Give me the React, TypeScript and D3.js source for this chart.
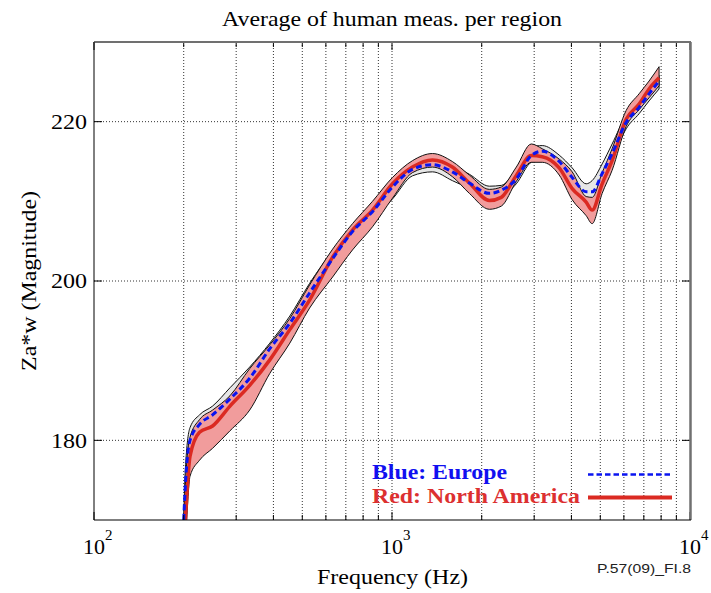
import React from "react";
import * as d3 from "d3";

// ---- data ----
const freq = [200, 203, 210, 226, 250, 286, 333, 389, 454, 529, 632, 737, 860, 1004, 1171, 1367, 1594, 1818, 2122, 2327, 2613, 2934, 3193, 3640, 4024, 4483, 4695, 5073, 5479, 6105, 6748, 7288, 7874];

const euUpper = [170.5, 177, 181.6, 183.2, 184.3, 186.6, 189.2, 192.2, 195.6, 199.7, 203.8, 206.8, 209.6, 212.5, 214.8, 215.5, 214.5, 213.4, 211.9, 212.0, 214.0, 216.8, 217.0, 215.8, 214.2, 212.2, 212.6, 214.7, 217.2, 220.8, 222.5, 224.3, 225.8];
const euMean = [170, 175, 180.0, 182.0, 183.2, 185.2, 187.8, 191.5, 194.7, 198.5, 202.8, 206.2, 208.7, 211.8, 214.0, 214.6, 213.7, 212.3, 211.0, 211.4, 212.8, 215.75, 216.3, 215.0, 213.0, 211.2, 211.2, 213.5, 216.0, 219.9, 221.8, 223.5, 225.1];
const euLower = [169, 173, 178.5, 181.0, 182.0, 184.0, 186.8, 190.5, 193.5, 197.5, 201.5, 205.0, 207.8, 210.3, 213.2, 213.7, 212.6, 211.6, 210.3, 210.6, 212.2, 214.9, 215.2, 214.2, 212.0, 210.3, 210.3, 212.6, 215.2, 219.1, 221.0, 222.6, 224.1];

const naUpper = [169.5, 175, 180.4, 182.6, 183.8, 185.6, 189.0, 192.0, 195.3, 199.5, 204.0, 207.2, 210.0, 213.0, 215.1, 216.0, 215.0, 213.3, 211.5, 211.8, 214.3, 217.2, 216.6, 215.3, 213.7, 210.6, 210.5, 213.6, 216.6, 221.4, 223.5, 225.1, 226.9];
const naMean = [166, 170.5, 178.0, 181.0, 181.8, 184.3, 186.9, 190.1, 193.9, 197.6, 203.0, 206.4, 208.9, 212.2, 214.3, 215.2, 214.3, 212.3, 210.1, 210.5, 213.25, 215.75, 215.6, 214.2, 211.6, 209.9, 208.9, 212.2, 215.1, 220.3, 222.2, 224.1, 225.5];
const naLower = [165, 168, 175.5, 177.5, 179.0, 181.2, 183.8, 188.4, 192.2, 196.6, 200.5, 203.9, 206.8, 210.4, 213.6, 214.3, 213.1, 211.0, 209.0, 209.4, 212.5, 214.9, 214.9, 213.3, 210.2, 208.2, 207.2, 211.0, 213.9, 219.4, 221.5, 223.0, 224.5];

const yTicks = [180, 200, 220];
const xMajor = [100, 1000, 10000];
const xMajorExp = ["2", "3", "4"];
const xMinor = [200, 300, 400, 500, 600, 700, 800, 900, 2000, 3000, 4000, 5000, 6000, 7000, 8000, 9000];

const title = "Average of human meas. per region";
const xLabel = "Frequency (Hz)";
const yLabel = "Za*w (Magnitude)";
const legendEurope = "Blue: Europe";
const legendNA = "Red: North America";
const figId = "P.57(09)_FI.8";

const L = 94, R = 690, T = 42, B = 520;
const serif = "Liberation Serif, Times New Roman, serif";

export default function App() {
  const x = d3.scaleLog().domain([100, 10000]).range([L, R]);
  const y = d3.scaleLinear().domain([170, 230]).range([B, T]);

  const band = (lo: number[], hi: number[]) =>
    d3.area<number>()
      .x((_, i) => x(freq[i]))
      .y0((_, i) => y(lo[i]))
      .y1((_, i) => y(hi[i]))
      .curve(d3.curveMonotoneX)(freq) || "";
  const line = (v: number[]) =>
    d3.line<number>().x((_, i) => x(freq[i])).y((_, i) => y(v[i])).curve(d3.curveMonotoneX)(freq) || "";

  const grid = [...xMinor, 1000];

  return (
    <svg width={711} height={593} style={{ position: "absolute", left: 0, top: 0, background: "#fff" }}>
      <defs>
        <clipPath id="plotclip">
          <rect x={L} y={T} width={R - L} height={B - T} />
        </clipPath>
      </defs>
      <rect x={0} y={0} width={711} height={593} fill="#fff" />

      {/* grid */}
      {grid.map((f) => (
        <line key={"gx" + f} x1={x(f)} x2={x(f)} y1={T} y2={B} stroke="#333" strokeWidth={1} strokeDasharray="1,2" />
      ))}
      {yTicks.map((v) => (
        <line key={"gy" + v} x1={L} x2={R} y1={y(v)} y2={y(v)} stroke="#333" strokeWidth={1} strokeDasharray="1,2" />
      ))}

      {/* bands and lines */}
      <g clipPath="url(#plotclip)">
        <path d={band(euLower, euUpper)} fill="#e6e6e6" stroke="#111" strokeWidth={1} />
        <path d={band(naLower, naUpper)} fill="#f19c9c" stroke="#111" strokeWidth={1} />
        <path d={line(naMean)} fill="none" stroke="#db2a22" strokeWidth={3.5} strokeLinejoin="round" />
        <path d={line(euMean)} fill="none" stroke="#0a14f0" strokeWidth={3} strokeDasharray="6,3.5" />
      </g>

      {/* ticks */}
      {xMinor.map((f) => (
        <g key={"tx" + f}>
          <line x1={x(f)} x2={x(f)} y1={B} y2={B - 5} stroke="#000" />
          <line x1={x(f)} x2={x(f)} y1={T} y2={T + 5} stroke="#000" />
        </g>
      ))}
      {xMajor.map((f) => (
        <g key={"txm" + f}>
          <line x1={x(f)} x2={x(f)} y1={B} y2={B - 8} stroke="#000" />
          <line x1={x(f)} x2={x(f)} y1={T} y2={T + 8} stroke="#000" />
        </g>
      ))}
      {yTicks.map((v) => (
        <g key={"ty" + v}>
          <line x1={L} x2={L + 8} y1={y(v)} y2={y(v)} stroke="#000" />
          <line x1={R} x2={R - 8} y1={y(v)} y2={y(v)} stroke="#000" />
        </g>
      ))}

      {/* frame */}
      <line x1={L} x2={R + 1} y1={T} y2={T} stroke="#707070" strokeWidth={2} />
      <line x1={R + 0.5} x2={R + 0.5} y1={T} y2={B} stroke="#707070" strokeWidth={2.5} />
      <line x1={L} x2={L} y1={T} y2={B} stroke="#000" strokeWidth={1} />
      <line x1={L} x2={R + 1} y1={B} y2={B} stroke="#000" strokeWidth={1.2} />

      {/* y tick labels */}
      {yTicks.map((v) => (
        <text key={"yl" + v} x={51} y={y(v) + 7.3} fontFamily={serif} fontSize={21} textLength={36} lengthAdjust="spacingAndGlyphs" fill="#000">
          {v}
        </text>
      ))}

      {/* x tick labels */}
      {xMajor.map((f, i) => (
        <g key={"xl" + f}>
          <text x={x(f)} y={553.5} fontFamily={serif} fontSize={22} textAnchor="middle" fill="#000">10</text>
          <text x={x(f) + 11} y={540} fontFamily={serif} fontSize={15} fill="#000">{xMajorExp[i]}</text>
        </g>
      ))}

      {/* titles */}
      <text x={222} y={26} fontFamily={serif} fontSize={21} textLength={340} lengthAdjust="spacingAndGlyphs" fill="#000">{title}</text>
      <text x={317} y={584} fontFamily={serif} fontSize={21} textLength={151} lengthAdjust="spacingAndGlyphs" fill="#000">{xLabel}</text>
      <text transform="translate(36,281) rotate(-90)" x={0} y={0} textAnchor="middle" fontFamily={serif} fontSize={22} textLength={180} lengthAdjust="spacingAndGlyphs" fill="#000">{yLabel}</text>
      <text x={597} y={573} fontFamily="Liberation Sans, Arial, sans-serif" fontSize={12.5} textLength={94} lengthAdjust="spacingAndGlyphs" fill="#222">{figId}</text>

      {/* legend */}
      <text x={372} y={479} fontFamily={serif} fontWeight="bold" fontSize={22} textLength={135} lengthAdjust="spacingAndGlyphs" fill="#1010f0">{legendEurope}</text>
      <text x={372} y={503} fontFamily={serif} fontWeight="bold" fontSize={22} textLength={208} lengthAdjust="spacingAndGlyphs" fill="#dc3030">{legendNA}</text>
      <line x1={588} x2={672} y1={474.5} y2={474.5} stroke="#0a14f0" strokeWidth={2.7} strokeDasharray="5.5,3" />
      <line x1={588} x2={672} y1={497.5} y2={497.5} stroke="#db2a22" strokeWidth={4} />
    </svg>
  );
}
